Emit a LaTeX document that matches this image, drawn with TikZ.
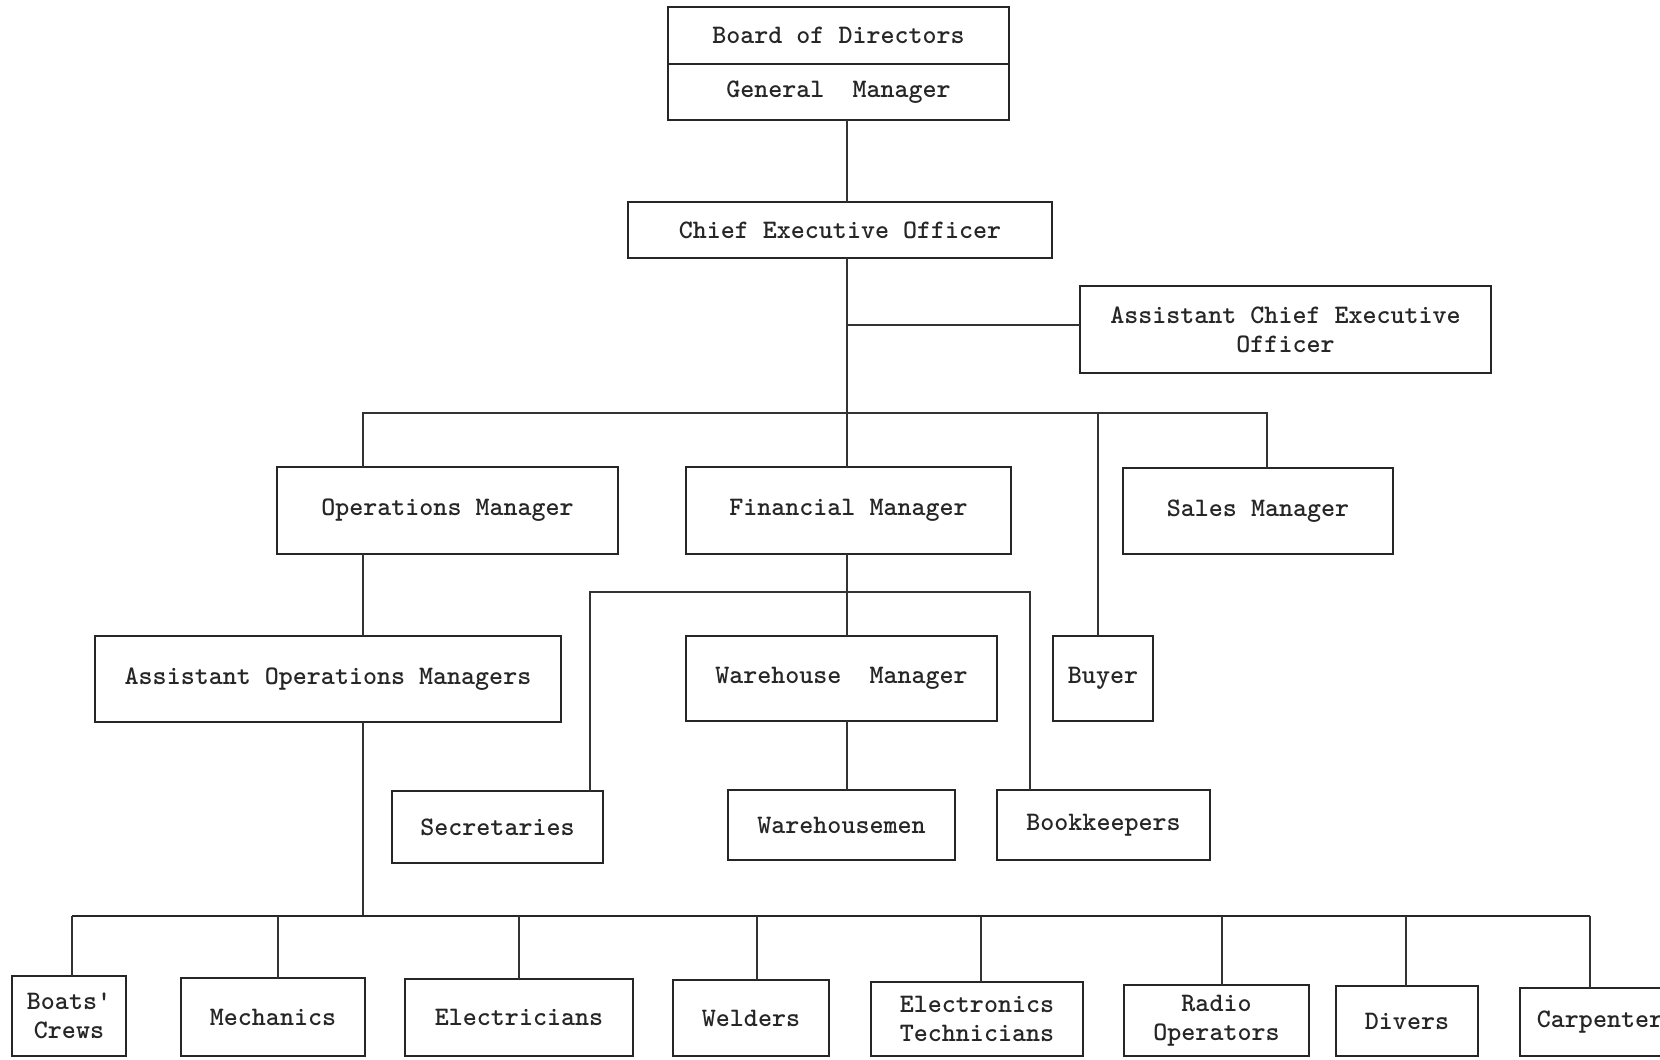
\documentclass[tikz,border=0pt]{standalone}
\usetikzlibrary{calc}
\begin{document}
\begin{tikzpicture}[x=0.02cm,y=-0.02cm,
  box/.style={draw=black!85, line width=1.3pt, inner sep=0pt, outer sep=0pt, align=center,
    font=\fontsize{15.2}{16.3}\selectfont\ttfamily\bfseries, text=black!85},
  conn/.style={draw=black!80, line width=0.85pt},
  thickconn/.style={draw=black!85, line width=1.5pt}]
\useasboundingbox (0,0) rectangle (1660,1059);
\newcommand\obox[6]{\node[box, minimum width={(#4-#2)*0.02cm}, minimum height={(#5-#3)*0.02cm}] (#1) at ({(#2+#4)/2},{(#3+#5)/2}) {#6};}
% top
\obox{board}{668}{7}{1009}{64}{Board of Directors}
\obox{gm}{668}{64}{1009}{120}{General\ \ Manager}
\obox{ceo}{628}{202}{1052}{258}{Chief Executive Officer}
\obox{aceo}{1080}{286}{1491}{373}{Assistant Chief Executive\\Officer}
% second level
\obox{ops}{277}{467}{618}{554}{Operations Manager}
\obox{fin}{686}{467}{1011}{554}{Financial Manager}
\obox{sales}{1123}{468}{1393}{554}{Sales Manager}
% third level
\obox{aops}{95}{636}{561}{722}{Assistant Operations Managers}
\obox{wm}{686}{636}{997}{721}{Warehouse\ \ Manager}
\obox{buyer}{1053}{636}{1153}{721}{Buyer}
% fourth
\obox{sec}{392}{791}{603}{863}{Secretaries}
\obox{wmen}{728}{790}{955}{860}{Warehousemen}
\obox{book}{997}{790}{1210}{860}{Bookkeepers}
% bottom
\obox{boats}{12}{976}{126}{1056}{Boats'\\Crews}
\obox{mech}{181}{978}{365}{1056}{Mechanics}
\obox{elec}{405}{979}{633}{1056}{Electricians}
\obox{weld}{673}{980}{829}{1056}{Welders}
\obox{etech}{871}{982}{1083}{1056}{Electronics\\Technicians}
\obox{radio}{1124}{985}{1309}{1056}{Radio\\Operators}
\obox{divers}{1336}{986}{1478}{1056}{Divers}
\obox{carp}{1520}{988}{1680}{1056}{Carpenter}
% junction coordinates
\coordinate (sp) at (847,0);
\coordinate (ja) at (363,413);
\coordinate (jb) at (1267,413);
\coordinate (jbuy) at (1098,413);
\coordinate (jac) at (847,325);
\coordinate (fl) at (590,592);
\coordinate (fr) at (1030,592);
\coordinate (bl) at (72,916);
\coordinate (br) at (1590,916);
% spine
\draw[conn] (gm.south -| sp) -- (ceo.north -| sp);
\draw[conn] (ceo.south -| sp) -- (fin.north -| sp);
\draw[conn] (jac) -- (jac -| aceo.west);
% second level bar
\draw[conn] (ja |- ops.north) -- (ja) -- (jb) -- (jb |- sales.north);
\draw[conn] (jbuy) -- (jbuy |- buyer.north);
% ops chain
\draw[conn] (ops.south -| ja) -- (aops.north -| ja);
\draw[conn] (aops.south -| ja) -- (bl -| ja);
% financial
\draw[conn] (fin.south -| sp) -- (wm.north -| sp);
\draw[conn] (fl |- sec.north) -- (fl) -- (fr) -- (fr |- book.north);
\draw[conn] (wm.south -| sp) -- (wmen.north -| sp);
% bottom bar
\draw[thickconn] (bl) -- (br);
\foreach \n/\xx in {boats/72, mech/278, elec/519, weld/757, etech/981, radio/1222, divers/1406, carp/1590}{
  \draw[conn] (\xx,916) -- (\n.north -| {\xx,0});
}
\end{tikzpicture}
\end{document}
